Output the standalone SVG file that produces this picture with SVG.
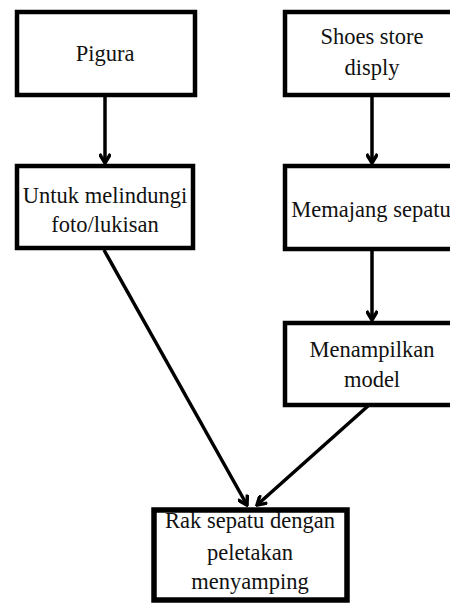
<svg xmlns="http://www.w3.org/2000/svg" width="450" height="603" viewBox="0 0 450 603">
<defs>
<marker id="arr" viewBox="0 0 12 12" refX="10" refY="6" markerWidth="12" markerHeight="12" markerUnits="userSpaceOnUse" orient="auto">
<polyline points="1,0.5 10,6 1,11.5" fill="none" stroke="#000" stroke-width="3.5"/>
</marker>
<style>
.box{fill:#fff;stroke:#000;stroke-width:4.5}
.bold{stroke-width:5.5}
.t{font-size:22.5px;fill:#111;text-anchor:middle}
.c{fill:none;stroke:#000;stroke-width:3.5;marker-end:url(#arr)}
</style>
</defs>
<rect width="450" height="603" fill="#fff"/>
<g id="connectors">
<line class="c" x1="105" y1="96" x2="105" y2="163"/>
<line class="c" x1="372" y1="96" x2="372" y2="163"/>
<line class="c" x1="372" y1="251" x2="372" y2="320"/>
<line class="c" x1="104" y1="250" x2="247" y2="505"/>
<line class="c" x1="368" y1="406" x2="257" y2="505"/>
</g>
<g font-family="Liberation Serif, Tinos, DejaVu Serif, serif">
<g id="pigura">
<rect class="box" x="17" y="12" width="178" height="83"/>
<text class="t" x="105" y="61">Pigura</text>
</g>
<g id="shoes">
<rect class="box" x="285" y="12" width="175" height="83"/>
<text class="t" x="372" y="44">Shoes store</text>
<text class="t" x="372" y="75">disply</text>
</g>
<g id="untuk">
<rect class="box" x="17" y="166" width="176" height="82"/>
<text class="t" x="105" y="203">Untuk melindungi</text>
<text class="t" x="105" y="232">foto/lukisan</text>
</g>
<g id="memajang">
<rect class="box" x="285" y="166" width="175" height="83"/>
<text class="t" x="371" y="217">Memajang sepatu</text>
</g>
<g id="menampilkan">
<rect class="box" x="285" y="323" width="175" height="82"/>
<text class="t" x="372" y="357">Menampilkan</text>
<text class="t" x="372" y="387">model</text>
</g>
<g id="rak">
<rect class="box bold" x="154" y="510" width="193" height="90"/>
<text class="t" x="250" y="528">Rak sepatu dengan</text>
<text class="t" x="250" y="560">peletakan</text>
<text class="t" x="250" y="589">menyamping</text>
</g>
</g>
</svg>
